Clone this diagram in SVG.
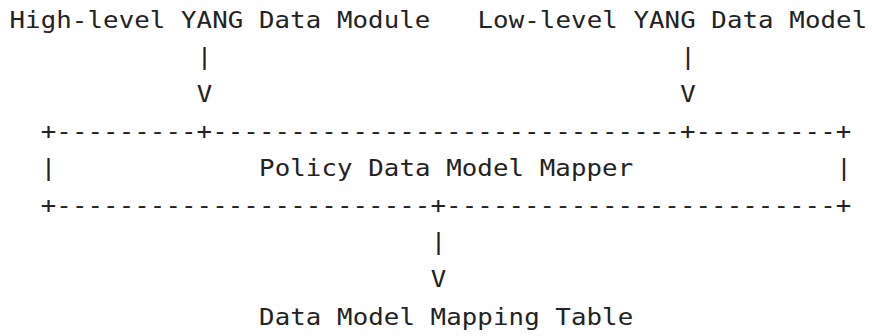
<svg xmlns="http://www.w3.org/2000/svg" width="872" height="336" viewBox="0 0 872 336">
<style>
text{font-family:"DejaVu Sans Mono","Liberation Mono",monospace;font-size:23px;letter-spacing:0.08px;fill:#222;white-space:pre}
</style>
<rect width="872" height="336" fill="#fff"/>
<g transform="scale(1.12,1)">
<g id="high-level">
<text x="8.48" y="28" xml:space="preserve">High-level YANG Data Module</text>
</g>
<g id="low-level">
<text x="426.34" y="28" xml:space="preserve">Low-level YANG Data Model</text>
</g>
<g id="mapper">
<text x="36.34" y="139" xml:space="preserve">+---------+------------------------------+---------+</text>
<text x="36.34" y="176">|</text>
<text x="231.34" y="176" xml:space="preserve">Policy Data Model Mapper</text>
<text x="746.7" y="176">|</text>
<text x="36.34" y="213" xml:space="preserve">+------------------------+-------------------------+</text>
</g>
<g id="table">
<text x="231.34" y="325" xml:space="preserve">Data Model Mapping Table</text>
</g>
<g id="connectors">
<text x="175.63" y="65">|</text>
<text x="175.63" y="102">V</text>
<text x="607.41" y="65">|</text>
<text x="607.41" y="102">V</text>
<text x="384.55" y="250">|</text>
<text x="384.55" y="287">V</text>
</g>
</g>
</svg>
